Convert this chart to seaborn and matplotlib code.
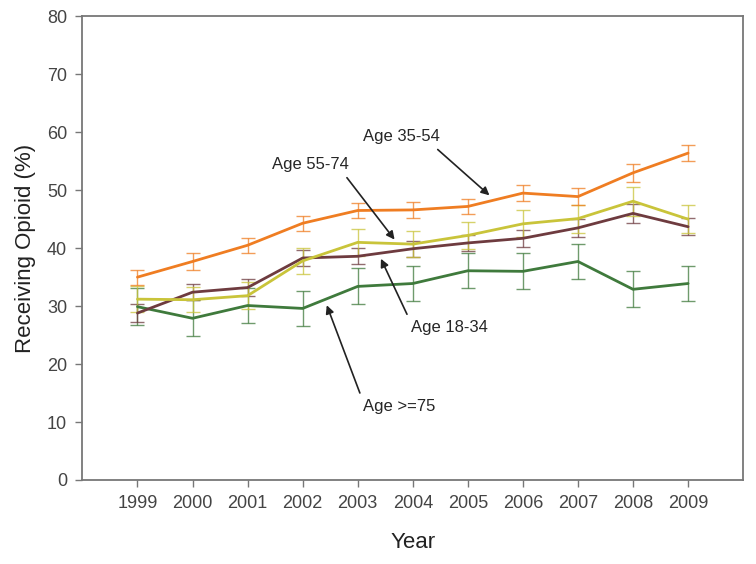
import matplotlib
matplotlib.use("Agg")
import matplotlib.pyplot as plt
import seaborn as sns
import pandas as pd

years = [1999, 2000, 2001, 2002, 2003, 2004, 2005, 2006, 2007, 2008, 2009]
age_35_54 = [35.0, 37.7, 40.5, 44.3, 46.5, 46.6, 47.2, 49.5, 48.9, 53.0, 56.4]
age_55_74 = [31.2, 31.1, 31.8, 37.8, 41.0, 40.7, 42.2, 44.2, 45.1, 48.1, 45.0]
age_18_34 = [28.8, 32.4, 33.2, 38.3, 38.6, 39.9, 40.9, 41.7, 43.5, 46.0, 43.7]
age_75_up = [29.9, 27.9, 30.1, 29.6, 33.4, 33.9, 36.1, 36.0, 37.7, 32.9, 33.9]
err_35_54 = [1.3, 1.4, 1.3, 1.3, 1.3, 1.4, 1.3, 1.4, 1.5, 1.6, 1.4]
err_55_74 = [2.3, 2.2, 2.3, 2.2, 2.3, 2.2, 2.3, 2.3, 2.4, 2.5, 2.4]
err_18_34 = [1.5, 1.4, 1.4, 1.4, 1.4, 1.4, 1.4, 1.5, 1.5, 1.6, 1.5]
err_75_up = [3.2, 3.1, 3.0, 3.0, 3.1, 3.1, 3.0, 3.1, 3.1, 3.1, 3.0]

groups = ["Age >=75", "Age 18-34", "Age 55-74", "Age 35-54"]
colors = {"Age >=75": "#3f7a3c", "Age 18-34": "#6e3b3f",
          "Age 55-74": "#c9c43a", "Age 35-54": "#ef7d22"}
values = {"Age >=75": age_75_up, "Age 18-34": age_18_34,
          "Age 55-74": age_55_74, "Age 35-54": age_35_54}
errors = {"Age >=75": err_75_up, "Age 18-34": err_18_34,
          "Age 55-74": err_55_74, "Age 35-54": err_35_54}

df = pd.concat([pd.DataFrame({"Year": years, "pct": values[g], "err": errors[g], "group": g})
                for g in groups], ignore_index=True)

sns.set_style("white")
plt.rcParams["font.family"] = ["Liberation Sans", "DejaVu Sans"]

fig = plt.figure(figsize=(7.56, 5.64), dpi=100)
ax = fig.add_axes([0.109, 0.149, 0.874, 0.822])

for g in groups:
    d = df[df["group"] == g]
    ax.errorbar(d["Year"], d["pct"], yerr=d["err"], fmt="none", ecolor=colors[g],
                elinewidth=1.0, capsize=5, capthick=1.0, alpha=0.75, zorder=2)

sns.lineplot(data=df, x="Year", y="pct", hue="group", palette=colors, hue_order=groups,
             linewidth=2, legend=False, ax=ax, zorder=3)

ax.set_xlim(1998, 2010)
ax.set_ylim(0, 80)
ax.set_xticks(years)
ax.set_yticks(range(0, 81, 10))
ax.tick_params(axis="both", direction="out", length=5, width=1, colors="#777777",
               labelcolor="#444444", labelsize=13, bottom=True, left=True, pad=6)
ax.set_xlabel("Year", fontsize=16, color="#222222", labelpad=14)
ax.set_ylabel("Receiving Opioid (%)", fontsize=16, color="#222222", labelpad=8)
for s in ax.spines.values():
    s.set_color("#777777")
    s.set_linewidth(1.3)

arrow = dict(arrowstyle="-|>", color="#222222", lw=1.2, mutation_scale=12)
ax.annotate("Age 35-54", xy=(2005.43, 48.8), xytext=(2003.1, 59.2),
            fontsize=12, va="center", ha="left", arrowprops=dict(arrow, relpos=(0.85, 0.2)))
ax.annotate("Age 55-74", xy=(2003.7, 41.1), xytext=(2001.45, 54.4),
            fontsize=12, va="center", ha="left", arrowprops=dict(arrow, relpos=(0.9, 0.1)))
ax.annotate("Age 18-34", xy=(2003.4, 38.6), xytext=(2003.97, 26.3),
            fontsize=12, va="center", ha="left", arrowprops=dict(arrow, relpos=(0.0, 0.8)))
ax.annotate("Age >=75", xy=(2002.42, 30.6), xytext=(2003.1, 12.7),
            fontsize=12, va="center", ha="left", arrowprops=dict(arrow, relpos=(0.0, 0.8)))

fig.savefig("out.png", dpi=100)
